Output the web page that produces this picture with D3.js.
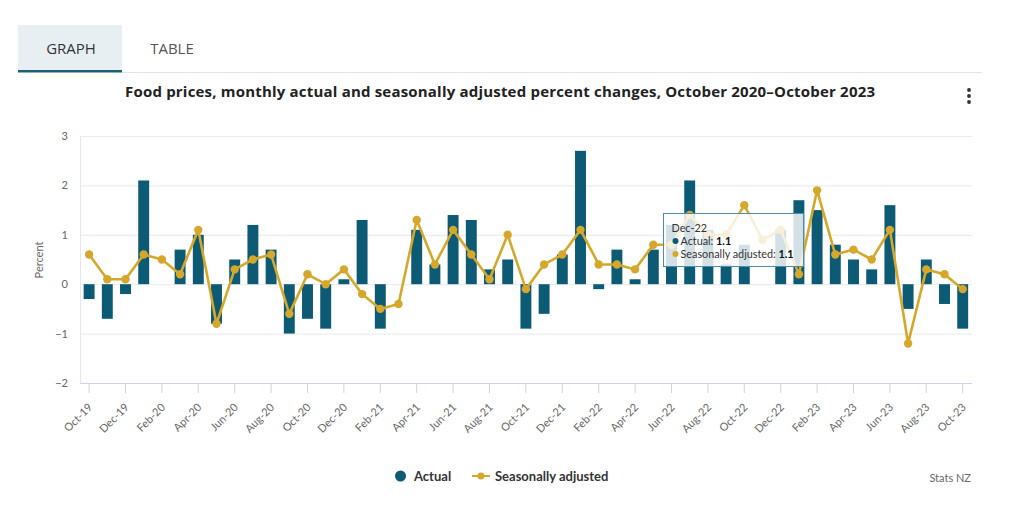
<!DOCTYPE html>
<html><head><meta charset="utf-8">
<script src="https://cdn.jsdelivr.net/npm/d3@7"></script>
<style>
html,body{margin:0;padding:0;background:#fff;}
svg{display:block;font-family:Lato,"Open Sans",sans-serif;}
</style></head>
<body>
<svg id="chart" width="1024" height="512"></svg>
<script>
const months = ["Oct-19","Nov-19","Dec-19","Jan-20","Feb-20","Mar-20","Apr-20","May-20","Jun-20","Jul-20","Aug-20","Sep-20",
"Oct-20","Nov-20","Dec-20","Jan-21","Feb-21","Mar-21","Apr-21","May-21","Jun-21","Jul-21","Aug-21","Sep-21",
"Oct-21","Nov-21","Dec-21","Jan-22","Feb-22","Mar-22","Apr-22","May-22","Jun-22","Jul-22","Aug-22","Sep-22",
"Oct-22","Nov-22","Dec-22","Jan-23","Feb-23","Mar-23","Apr-23","May-23","Jun-23","Jul-23","Aug-23","Sep-23","Oct-23"];
const actual = [-0.3,-0.7,-0.2,2.1,0.0,0.7,1.0,-0.8,0.5,1.2,0.7,-1.0,
-0.7,-0.9,0.1,1.3,-0.9,0.0,1.1,0.4,1.4,1.3,0.3,0.5,
-0.9,-0.6,0.6,2.7,-0.1,0.7,0.1,0.7,1.2,2.1,1.1,0.4,
0.8,0.0,1.1,1.7,1.5,0.8,0.5,0.3,1.6,-0.5,0.5,-0.4,-0.9];
const seasonal = [0.6,0.1,0.1,0.6,0.5,0.2,1.1,-0.8,0.3,0.5,0.6,-0.6,
0.2,0.0,0.3,-0.2,-0.5,-0.4,1.3,0.4,1.1,0.6,0.1,1.0,
-0.1,0.4,0.6,1.1,0.4,0.4,0.3,0.8,0.8,1.4,1.0,1.0,
1.6,0.9,1.1,0.2,1.9,0.6,0.7,0.5,1.1,-1.2,0.3,0.2,-0.1];
const yTicks = [-2,-1,0,1,2,3];
const seriesNames = ["Actual","Seasonally adjusted"];
const title = "Food prices, monthly actual and seasonally adjusted percent changes, October 2020\u2013October 2023";
const tooltipIndex = 38;

const BAR = "#0c5a74", GOLD = "#d5a82b";
const svg = d3.select("#chart");

// Tabs
svg.append("rect").attr("x",18).attr("y",25).attr("width",104).attr("height",47).attr("fill","#e8eff2");
svg.append("line").attr("x1",122).attr("x2",982).attr("y1",72.5).attr("y2",72.5).attr("stroke","#e3e6e8");
svg.append("rect").attr("x",18).attr("y",70).attr("width",104).attr("height",2.5).attr("fill","#1d5e72");
svg.append("text").attr("x",71).attr("y",54).attr("text-anchor","middle").attr("font-size",15).attr("font-family","'Open Sans',sans-serif").attr("fill","#333").text("GRAPH");
svg.append("text").attr("x",172).attr("y",54).attr("text-anchor","middle").attr("font-size",15).attr("font-family","'Open Sans',sans-serif").attr("fill","#555").text("TABLE");

// Title
svg.append("text").attr("x",500).attr("y",97).attr("text-anchor","middle").attr("font-size",15)
  .attr("textLength",750).attr("lengthAdjust","spacing")
  .attr("font-family","'Open Sans',sans-serif").attr("font-weight","bold").attr("fill","#222").text(title);
// kebab
[90,96,102].forEach(y=>svg.append("circle").attr("cx",969).attr("cy",y).attr("r",1.9).attr("fill","#333"));

const x = d3.scaleBand().domain(months).range([80,971.8]).paddingInner(0.4).paddingOuter(0.2);
const y = d3.scaleLinear().domain([-2,3]).range([383,136]);
const cx = m => x(m) + x.bandwidth()/2;

// gridlines
svg.append("g").selectAll("line").data(yTicks).join("line")
  .attr("x1",80).attr("x2",971.8).attr("y1",d=>y(d)+0.5).attr("y2",d=>y(d)+0.5)
  .attr("stroke","#e9e9ee");
svg.append("line").attr("x1",80.5).attr("x2",80.5).attr("y1",136).attr("y2",383).attr("stroke","#e4e6f2");

// y axis
const yAxis = svg.append("g").attr("transform","translate(68,0)")
  .call(d3.axisLeft(y).tickValues(yTicks).tickSize(0).tickPadding(0).tickFormat(d3.format("d")));
yAxis.select(".domain").remove();
yAxis.selectAll("text").attr("font-size",11).attr("fill","#666").attr("font-family","Lato,sans-serif");
svg.append("text").attr("transform","translate(43,260) rotate(-90)").attr("text-anchor","middle")
  .attr("font-size",11).attr("fill","#666").text("Percent");

// x axis
const xAxis = svg.append("g").attr("transform","translate(0,383)")
  .call(d3.axisBottom(x).tickValues(months.filter((d,i)=>i%2===0)).tickSize(10).tickSizeOuter(0));
xAxis.select(".domain").attr("stroke","#ccd3ea");
xAxis.selectAll(".tick line").attr("stroke","#ccd3ea");
xAxis.selectAll("text").attr("font-size",11).attr("fill","#666").attr("font-family","Lato,sans-serif")
  .attr("text-anchor","end").attr("x",0).attr("y",0).attr("dy",0).attr("transform","translate(4,25) rotate(-45)");

// bars
svg.append("g").selectAll("rect").data(actual).join("rect")
  .attr("x",(d,i)=>x(months[i])).attr("width",x.bandwidth())
  .attr("y",d=>y(Math.max(0,d))).attr("height",d=>Math.abs(y(d)-y(0)))
  .attr("fill",BAR);

// line
const line = d3.line().x((d,i)=>cx(months[i])).y(d=>y(d));
svg.append("path").datum(seasonal).attr("d",line).attr("fill","none").attr("stroke",GOLD).attr("stroke-width",2.6).attr("stroke-linejoin","round");
svg.append("g").selectAll("circle").data(seasonal).join("circle")
  .attr("cx",(d,i)=>cx(months[i])).attr("cy",d=>y(d)).attr("r",4.2).attr("fill",GOLD);

// tooltip
const tt = svg.append("g").attr("transform","translate(663.5,213.5)");
tt.append("rect").attr("width",140).attr("height",53).attr("fill","rgba(255,255,255,0.82)").attr("stroke","#4b8ea9").attr("stroke-width",1);
tt.append("text").attr("x",8).attr("y",18).attr("font-size",10.8).attr("fill","#333").text(months[tooltipIndex]);
tt.append("circle").attr("cx",12).attr("cy",27.5).attr("r",3).attr("fill",BAR);
const t1 = tt.append("text").attr("x",17).attr("y",31.5).attr("font-size",10.8).attr("fill","#333");
t1.append("tspan").text(seriesNames[0]+": ");
t1.append("tspan").attr("font-weight","bold").attr("fill","#111").text(actual[tooltipIndex].toFixed(1));
tt.append("circle").attr("cx",12).attr("cy",40.5).attr("r",3).attr("fill",GOLD);
const t2 = tt.append("text").attr("x",17).attr("y",44.5).attr("font-size",10.8).attr("fill","#333");
t2.append("tspan").text(seriesNames[1]+": ");
t2.append("tspan").attr("font-weight","bold").attr("fill","#111").text(seasonal[tooltipIndex].toFixed(1));

// legend
const lg = svg.append("g");
lg.append("circle").attr("cx",400.5).attr("cy",476).attr("r",5.5).attr("fill",BAR);
lg.append("text").attr("x",414).attr("y",480.5).attr("font-size",13).attr("font-weight","bold").attr("fill","#333").text(seriesNames[0]);
lg.append("line").attr("x1",472).attr("x2",490).attr("y1",476).attr("y2",476).attr("stroke",GOLD).attr("stroke-width",2);
lg.append("circle").attr("cx",481).attr("cy",476).attr("r",3.5).attr("fill",GOLD);
lg.append("text").attr("x",495).attr("y",480.5).attr("font-size",13).attr("font-weight","bold").attr("fill","#333").text(seriesNames[1]);
svg.append("text").attr("x",971).attr("y",482).attr("text-anchor","end").attr("font-size",11).attr("fill","#666").text("Stats NZ");
</script>
</body></html>
